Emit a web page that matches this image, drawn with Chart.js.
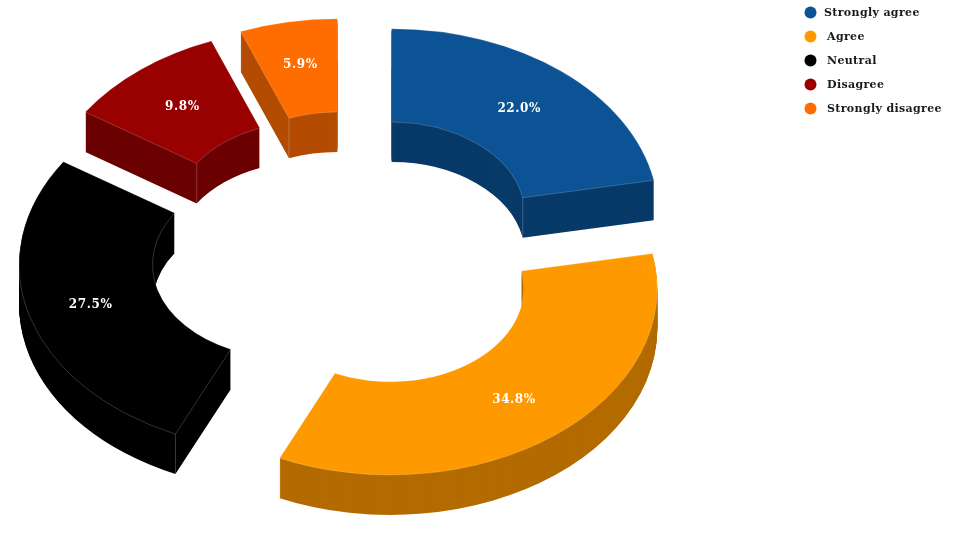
<!DOCTYPE html>
<html>
<head>
<meta charset="utf-8">
<title>Survey responses</title>
<style>
  html, body { margin: 0; background: #fff; }
  canvas { display: block; }
</style>
<script src="https://cdn.jsdelivr.net/npm/chart.js@4"></script>
</head>
<body>
<canvas id="ringChart" width="971" height="536"></canvas>
<script>
const categories = ['Strongly agree', 'Agree', 'Neutral', 'Disagree', 'Strongly disagree'];
const shares = [22.0, 34.8, 27.5, 9.8, 5.9];
const topColors = ['#0b5394', '#ff9900', '#000000', '#990000', '#ff6d01'];
const sideColors = ['#083a68', '#b36b00', '#000000', '#6b0000', '#b34c00'];

// 3D look: ring is squashed vertically and extruded downwards
const ringX = 349.5;
const ringY = 251.5;
const ringRadius = 267;
const squash = 0.698;
const explodeX = 66;
const explodeY = 67.5;
const depth = 40;
const labelNudgeX = [0, 0, -3, 0, 0];
const labelNudgeY = [1, 1, 2, 1, -3];

function squashCtx(ctx) {
  ctx.translate(0, ringY);
  ctx.scale(1, squash);
  ctx.translate(0, -ringY);
}

const ring3d = {
  id: 'ring3d',
  // Chart.js offset also grows the radius of small slices, so move the arcs ourselves
  afterDatasetsUpdate(chart) {
    chart.getDatasetMeta(0).data.forEach(arc => {
      const mid = (arc.startAngle + arc.endAngle) / 2;
      arc.x = ringX + Math.cos(mid) * explodeX;
      arc.y = ringY + Math.sin(mid) * explodeY;
    });
  },
  beforeDatasetsDraw(chart) {
    const ctx = chart.ctx;
    chart.getDatasetMeta(0).data.forEach((arc, i) => {
      const keep = arc.options;
      arc.options = Object.assign({}, keep, { backgroundColor: sideColors[i], borderWidth: 0 });
      for (let d = depth; d >= 1; d--) {
        ctx.save();
        ctx.translate(0, d);
        squashCtx(ctx);
        arc.draw(ctx);
        ctx.restore();
      }
      arc.options = keep;

      // hairlines on the wall corners, the top face hides the ones at the back
      ctx.strokeStyle = 'rgba(255,255,255,0.3)';
      ctx.lineWidth = 0.75;
      [arc.startAngle, arc.endAngle].forEach(a => {
        [arc.innerRadius, arc.outerRadius].forEach(r => {
          const px = arc.x + Math.cos(a) * r;
          const py = ringY + (arc.y + Math.sin(a) * r - ringY) * squash;
          ctx.beginPath();
          ctx.moveTo(px, py);
          ctx.lineTo(px, py + depth);
          ctx.stroke();
        });
      });
    });
    ctx.save();
    squashCtx(ctx);
  },
  afterDatasetsDraw(chart) {
    const ctx = chart.ctx;
    ctx.restore();

    // percent labels in the middle of each ring slice
    ctx.save();
    ctx.font = 'bold 12px "DejaVu Serif", serif';
    ctx.letterSpacing = '0.6px';
    ctx.fillStyle = '#ffffff';
    ctx.textAlign = 'center';
    ctx.textBaseline = 'middle';
    chart.getDatasetMeta(0).data.forEach((arc, i) => {
      const p = arc.getCenterPoint();
      const y = ringY + (p.y - ringY) * squash;
      ctx.fillText(shares[i].toFixed(1) + '%', p.x + labelNudgeX[i], y + labelNudgeY[i]);
    });
    ctx.restore();

    // legend
    ctx.save();
    ctx.font = 'bold 11px "DejaVu Serif", serif';
    ctx.letterSpacing = '0.35px';
    ctx.textAlign = 'left';
    ctx.textBaseline = 'middle';
    categories.forEach((name, i) => {
      const y = 12.5 + i * 24;
      ctx.fillStyle = topColors[i];
      ctx.beginPath();
      ctx.arc(810.5, y, 6, 0, Math.PI * 2);
      ctx.fill();
      ctx.fillStyle = '#1a1a1a';
      ctx.fillText(name, i === 0 ? 824 : 827, y + 1);
    });
    ctx.restore();
  }
};

new Chart(document.getElementById('ringChart'), {
  type: 'doughnut',
  data: {
    labels: categories,
    datasets: [{
      data: shares,
      backgroundColor: topColors,
      borderColor: 'rgba(255,255,255,0.3)',
      borderWidth: 0.75,
      clip: false
    }]
  },
  options: {
    responsive: false,
    animation: false,
    events: [],
    cutout: '50%',
    radius: ringRadius,
    plugins: {
      legend: { display: false },
      tooltip: { enabled: false }
    }
  },
  plugins: [ring3d]
});
</script>
</body>
</html>
